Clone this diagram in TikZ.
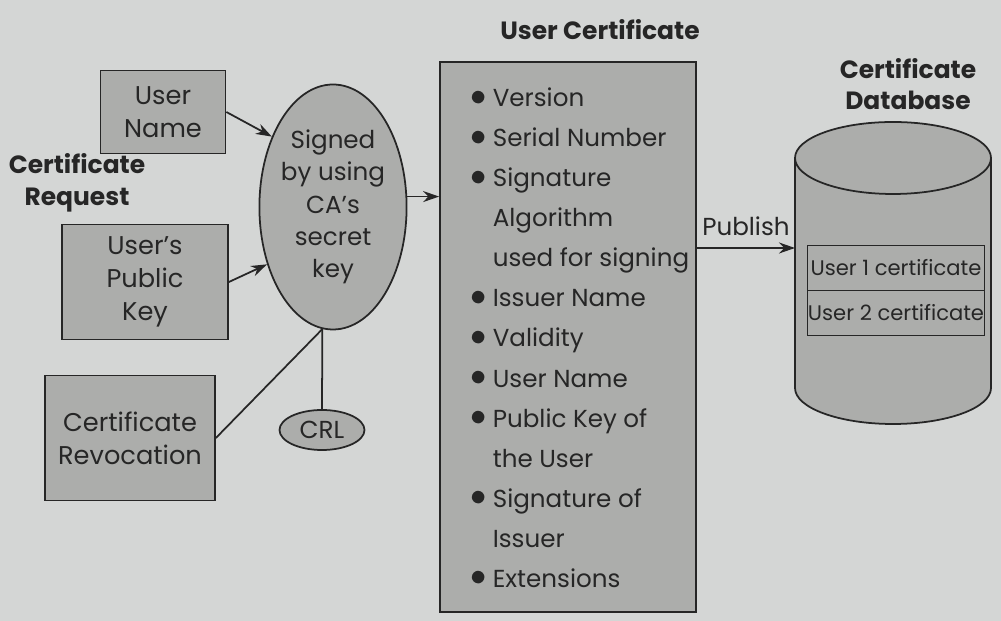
\documentclass[tikz,border=0pt]{standalone}
\usepackage{fontspec}
\setmainfont{Poppins}
\usepackage{xcolor}
\definecolor{pkpaper}{RGB}{212,214,213}
\definecolor{pkgray}{RGB}{172,173,171}
\definecolor{pkink}{RGB}{38,38,38}
\usetikzlibrary{arrows.meta, positioning, shapes.geometric}
\newcommand{\certitem}{\makebox[2.2mm][l]{\raisebox{0.1ex}{\fontsize{9}{9}\selectfont$\bullet$}}}
\newcommand{\certnone}{\hspace*{2.2mm}}
\tikzset{
  reqbox/.style={draw=pkink, fill=pkgray, line width=0.5pt, align=center, inner sep=0pt,
    font=\fontsize{7.3}{9.4}\selectfont, text=pkink},
  headlbl/.style={font=\fontsize{7.1}{9}\selectfont\bfseries, align=center, text=pkink},
  signell/.style={ellipse, draw=pkink, fill=pkgray, line width=0.5pt, inner sep=0pt, align=center,
    font=\fontsize{7}{9.2}\selectfont, text=pkink},
  arr/.style={draw=pkink, line width=0.5pt, -{Stealth[length=1.6mm, width=1.1mm]}},
  plain/.style={draw=pkink, line width=0.5pt}
}
\begin{document}
\begin{tikzpicture}[x=0.1mm, y=-0.1mm]
  \useasboundingbox[fill=pkpaper] (0,0) rectangle (1001,621);

  % --- Certificate request ---
  \node[headlbl] (reqlbl) at (77,183) {Certificate\\Request};
  \node[reqbox, minimum width=12.5mm, minimum height=8.3mm] (uname) at (163,112) {User\\Name};
  \node[reqbox, minimum width=16.6mm, minimum height=11.5mm] (pubkey) at (145,282) {User's\\Public\\Key};
  \node[reqbox, minimum width=17mm, minimum height=12.5mm] (revoc) at (130,438) {Certificate\\Revocation};

  % --- Signing by the CA ---
  \node[signell, minimum width=13mm, minimum height=24.5mm] (sign) at (333,207)
    {Signed\\by using\\CA's\\secret\\key};
  \node[signell, minimum width=8.5mm, minimum height=4mm] (crl) at (322,430) {CRL};
  \draw[arr] (uname.east) -- (sign.131);
  \draw[arr] (pubkey.east) -- (sign.221);
  \draw[plain] (revoc.east) -- (sign.265);
  \draw[plain] (sign.265) -- (crl.north);

  % --- User certificate ---
  \node[headlbl] (certlbl) at (600,30) {User Certificate};
  \node[draw=pkink, fill=pkgray, line width=0.5pt, minimum width=25.6mm, minimum height=55mm] (cert) at (568,337) {};
  \node[anchor=north west, align=left, inner sep=0pt, text=pkink, font=\fontsize{7}{11.4}\selectfont]
    (items) at ([xshift=3.1mm, yshift=-2.6mm]cert.north west) {%
    \certitem Version\\
    \certitem Serial Number\\
    \certitem Signature\\
    \certnone Algorithm\\
    \certnone used for signing\\
    \certitem Issuer Name\\
    \certitem Validity\\
    \certitem User Name\\
    \certitem Public Key of\\
    \certnone the User\\
    \certitem Signature of\\
    \certnone Issuer\\
    \certitem Extensions};
  \draw[arr] (sign.8) -- (sign.8 -| cert.west);

  % --- Certificate database ---
  \node[headlbl] (dblbl) at (908,84) {Certificate\\Database};
  \fill[pkgray] (795,158) -- (795,388) arc[start angle=180, end angle=360, x radius=9.8mm, y radius=3.6mm] -- (991,158) -- cycle;
  \draw[plain] (795,158) -- (795,388) arc[start angle=180, end angle=360, x radius=9.8mm, y radius=3.6mm] -- (991,158);
  \draw[plain, fill=pkgray] (893,158) ellipse [x radius=9.8mm, y radius=3.6mm];
  \node[reqbox, minimum width=17.7mm, minimum height=4.5mm, font=\fontsize{6}{8}\selectfont] (db1) at (896,268) {User 1 certificate};
  \node[reqbox, minimum width=17.7mm, minimum height=4.5mm, font=\fontsize{6}{8}\selectfont, below=-0.5pt of db1] (db2) {User 2 certificate};
  \coordinate (dbin) at (795,248);
  \draw[arr] (cert.east |- dbin) -- node[above, font=\fontsize{7}{9}\selectfont, text=pkink] (publbl) {Publish} (dbin);
\end{tikzpicture}
\end{document}
